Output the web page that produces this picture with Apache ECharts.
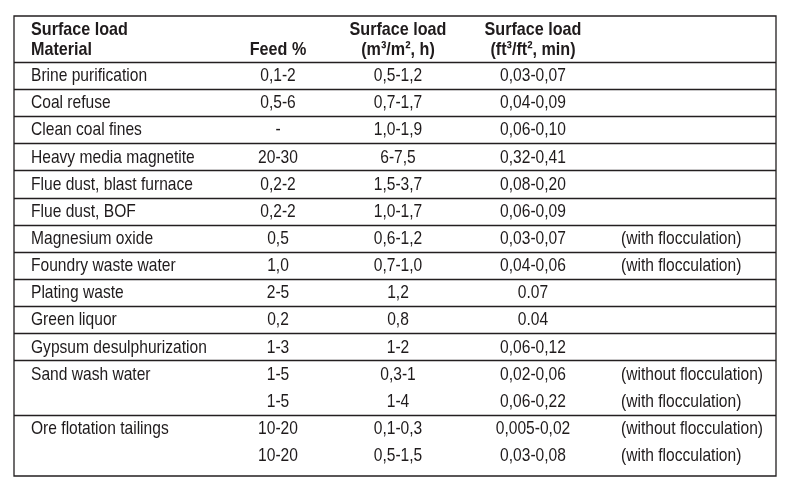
<!DOCTYPE html>
<html>
<head>
<meta charset="utf-8">
<script src="https://cdn.jsdelivr.net/npm/echarts@6/dist/echarts.min.js"></script>
<style>
html,body{margin:0;padding:0;background:#fff;}
#chart{width:787px;height:490px;}
</style>
</head>
<body>
<div id="chart"></div>
<script>
// ---- data ----
var headerLine1 = ["Surface load", "", "Surface load", "Surface load", ""];
var headerLine2 = ["Material", "Feed %", "(m\u00b3/m\u00b2, h)", "(ft\u00b3/ft\u00b2, min)", ""];
var materials = ["Brine purification","Coal refuse","Clean coal fines","Heavy media magnetite","Flue dust, blast furnace","Flue dust, BOF","Magnesium oxide","Foundry waste water","Plating waste","Green liquor","Gypsum desulphurization","Sand wash water","","Ore flotation tailings",""];
var feed = ["0,1-2","0,5-6","-","20-30","0,2-2","0,2-2","0,5","1,0","2-5","0,2","1-3","1-5","1-5","10-20","10-20"];
var loadMetric = ["0,5-1,2","0,7-1,7","1,0-1,9","6-7,5","1,5-3,7","1,0-1,7","0,6-1,2","0,7-1,0","1,2","0,8","1-2","0,3-1","1-4","0,1-0,3","0,5-1,5"];
var loadImperial = ["0,03-0,07","0,04-0,09","0,06-0,10","0,32-0,41","0,08-0,20","0,06-0,09","0,03-0,07","0,04-0,06","0.07","0.04","0,06-0,12","0,02-0,06","0,06-0,22","0,005-0,02","0,03-0,08"];
var remarks = ["","","","","","","(with flocculation)","(with flocculation)","","","","(without flocculation)","(with flocculation)","(without flocculation)","(with flocculation)"];
// row indices where a separator line is drawn (0 = below header)
var separators = [0,1,2,3,4,5,6,7,8,9,10,11,13];

// ---- layout (axis units) ----
var colX = [17, 264, 384, 519, 607];
var colAlign = ['left', 'center', 'center', 'center', 'left'];
var rowOffset = 0.51;
var header1Y = -1.20, header2Y = -0.44;
var FONT_FAMILY = "'Liberation Sans', Arial, sans-serif";
var FONT_SIZE = 19;
var NARROW = 0.82;
var NARROW_BOLD = 0.85;
var TXT = '#1f1b1c';

function textSeries(name, col, arr, yFn, bold) {
  var data = [];
  arr.forEach(function (t, i) {
    if (t !== '') data.push([colX[col], yFn(i), t]);
  });
  return {
    name: name,
    type: 'custom',
    data: data,
    silent: true,
    animation: false,
    encode: { x: 0, y: 1 },
    renderItem: function (params, api) {
      var pt = api.coord([api.value(0), api.value(1)]);
      return {
        type: 'text',
        x: pt[0],
        y: pt[1],
        scaleX: bold ? NARROW_BOLD : NARROW,
        style: {
          text: data[params.dataIndex][2],
          fill: TXT,
          font: (bold ? 'bold ' : '') + FONT_SIZE + 'px ' + FONT_FAMILY,
          align: colAlign[col],
          verticalAlign: 'middle'
        }
      };
    }
  };
}

var series = [];
var columns = [materials, feed, loadMetric, loadImperial, remarks];
columns.forEach(function (arr, c) {
  series.push(textSeries('col' + c, c, arr, function (i) { return i + rowOffset; }, false));
});
headerLine1.forEach(function (t, c) {
  if (t) series.push(textSeries('h1_' + c, c, [t], function () { return header1Y; }, true));
});
headerLine2.forEach(function (t, c) {
  if (t) series.push(textSeries('h2_' + c, c, [t], function () { return header2Y; }, true));
});
series.push({
  name: 'separators',
  type: 'scatter',
  data: [],
  silent: true,
  animation: false,
  markLine: {
    silent: true,
    animation: false,
    symbol: ['none', 'none'],
    label: { show: false },
    lineStyle: { color: '#231f20', type: 'solid', width: 1.3, opacity: 1 },
    data: separators.map(function (v) { return { yAxis: v }; })
  }
});

var chart = echarts.init(document.getElementById('chart'), null, { renderer: 'canvas' });
chart.setOption({
  backgroundColor: '#ffffff',
  animation: false,
  grid: {
    left: 14, right: 11, top: 16, bottom: 14,
    show: true, borderColor: '#231f20', borderWidth: 1.3, backgroundColor: 'transparent'
  },
  xAxis: { type: 'value', min: 0, max: 762, show: false },
  yAxis: { type: 'value', inverse: true, min: -1.694, max: 15.248, show: false },
  series: series
});
</script>
</body>
</html>
